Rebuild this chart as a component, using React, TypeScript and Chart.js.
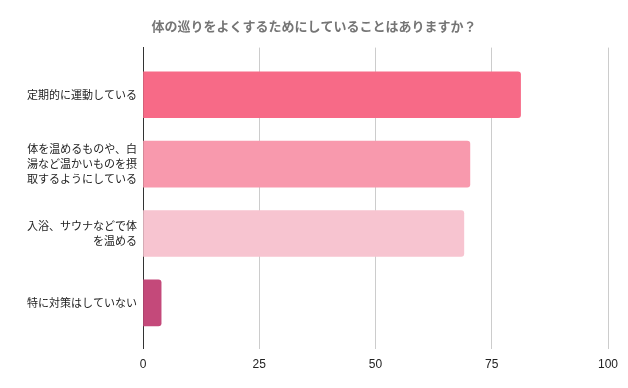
import React, { useEffect, useRef } from "react";
import { Chart, registerables } from "chart.js";

Chart.register(...registerables);

const titleText = "体の巡りをよくするためにしていることはありますか？";
const categories: string[][] = [
  ["定期的に運動している"],
  ["体を温めるものや、白", "湯など温かいものを摂", "取するようにしている"],
  ["入浴、サウナなどで体", "を温める"],
  ["特に対策はしていない"],
];
const values = [81.2, 70.3, 69.0, 3.9];
const barColors = ["#f76a87", "#f899ad", "#f7c4d0", "#c4497a"];
const xTicks = [0, 25, 50, 75, 100];

export default function App() {
  const ref = useRef<HTMLCanvasElement | null>(null);
  useEffect(() => {
    document.body.style.margin = "0";
    const canvas = ref.current!;
    const chart = new Chart(canvas, {
      type: "bar",
      data: {
        datasets: [
          {
            data: values.map((v, i) => ({ x: v, y: i })),
            backgroundColor: barColors,
            borderColor: barColors,
            borderWidth: 0,
            borderRadius: 3,
            borderSkipped: "start",
            barThickness: 46,
          },
        ],
      },
      options: {
        indexAxis: "y",
        animation: false,
        responsive: false,
        maintainAspectRatio: false,
        layout: { padding: { top: 0, right: 20, bottom: 7, left: 20 } },
        plugins: {
          legend: { display: false },
          tooltip: { enabled: false },
          title: {
            display: true,
            text: titleText,
            color: "#757575",
            font: { family: '"Noto Sans CJK JP", sans-serif', size: 13, weight: "bold" },
            padding: { top: 18, bottom: 14 },
          },
        },
        scales: {
          x: {
            type: "linear",
            min: 0,
            max: 100,
            bounds: "data",
            afterBuildTicks: (s: any) => {
              s.ticks = xTicks.map((v) => ({ value: v }));
            },
            grid: {
              color: (c: any) => (c.tick && c.tick.value === 0 ? "#333333" : "#cccccc"),
              drawTicks: false,
              lineWidth: 1,
            },
            border: { display: false },
            ticks: {
              color: "#222222",
              padding: 9,
              font: { family: '"Liberation Sans", Arial, sans-serif', size: 12 },
            },
          },
          y: {
            type: "linear",
            reverse: true,
            offset: false,
            bounds: "data",
            min: -0.68,
            max: 3.66,
            afterBuildTicks: (s: any) => {
              s.ticks = categories.map((_, i) => ({ value: i }));
            },
            afterFit: (s: any) => {
              s.width = 123;
            },
            grid: { display: false, drawTicks: false, offset: false },
            border: { display: true, color: "#333333" },
            ticks: {
              color: "#222222",
              padding: 6,
              font: { family: '"Noto Sans CJK JP", sans-serif', size: 11, lineHeight: 1.35 },
              callback: (v: any) => categories[v as number] ?? "",
            },
          },
        },
      },
    });
    return () => chart.destroy();
  }, []);
  return (
    <div style={{ width: 628, height: 388, background: "#fff" }}>
      <canvas ref={ref} width={628} height={388} style={{ width: 628, height: 388, display: "block" }} />
    </div>
  );
}
